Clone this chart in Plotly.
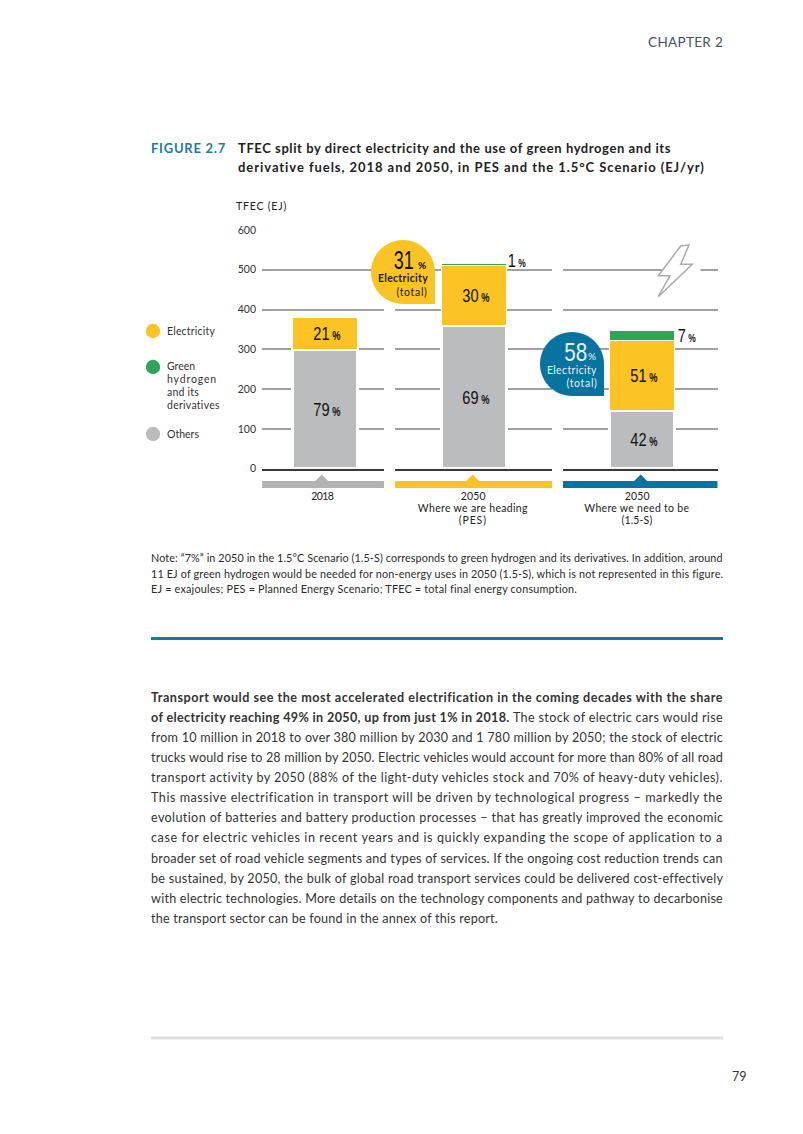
import plotly.graph_objects as go

W, H = 803, 1134

# ---- data ----
panels = ["2018", "2050 PES", "2050 1.5-S"]
others = [298, 358, 146]
electricity = [80, 151, 176]
hydrogen = [0, 5, 25]
others_pct = ["79", "69", "42"]
electricity_pct = ["21", "30", "51"]
hydrogen_pct = [None, "1", "7"]
y_ticks = [0, 100, 200, 300, 400, 500, 600]
panel_labels = [["2018"], ["2050", "Where we are heading", "(PES)"], ["2050", "Where we need to be", "(1.5-S)"]]
legend_labels = ["Electricity", "Green", "hydrogen", "and its", "derivatives", "Others"]
body_lines = [
    "<b>Transport would see the most accelerated electrification in the coming decades with the share</b>",
    "<b>of electricity reaching 49% in 2050, up from just 1% in 2018.</b> The stock of electric cars would rise",
    "from 10 million in 2018 to over 380 million by 2030 and 1 780 million by 2050; the stock of electric",
    "trucks would rise to 28 million by 2050. Electric vehicles would account for more than 80% of all road",
    "transport activity by 2050 (88% of the light-duty vehicles stock and 70% of heavy-duty vehicles).",
    "This massive electrification in transport will be driven by technological progress – markedly the",
    "evolution of batteries and battery production processes – that has greatly improved the economic",
    "case for electric vehicles in recent years and is quickly expanding the scope of application to a",
    "broader set of road vehicle segments and types of services. If the ongoing cost reduction trends can",
    "be sustained, by 2050, the bulk of global road transport services could be delivered cost-effectively",
    "with electric technologies. More details on the technology components and pathway to decarbonise",
    "the transport sector can be found in the annex of this report.",
]
note_lines = [
    "Note: “7%” in 2050 in the 1.5°C Scenario (1.5-S) corresponds to green hydrogen and its derivatives. In addition, around",
    "11 EJ of green hydrogen would be needed for non-energy uses in 2050 (1.5-S), which is not represented in this figure.",
    "EJ = exajoules; PES = Planned Energy Scenario; TFEC = total final energy consumption.",
]

# ---- style ----
YEL, GRN, GRY, BLU = "#FCC324", "#2FA55A", "#BBBCBE", "#07749F"
TXT = "#2b2b2b"
SANS = "Lato, sans-serif"
NARROW = "'Liberation Sans', sans-serif"


def px(x):
    return x / W


def py(y):
    return 1 - y / H


def pct(n, small=12):
    return f"{n}<span style='font-size:{small}px;font-weight:bold'> %</span>"


fig = go.Figure()
panel_x = [(262, 384, 325), (395, 552, 474), (563, 717.5, 642)]
axis_names = ["x", "x2", "x3"]
layout_axes = {}
for i, (l, r, c) in enumerate(panel_x):
    key = "xaxis" if i == 0 else f"xaxis{i + 1}"
    layout_axes[key] = dict(
        domain=[px(l), px(r)], type="category", range=[l - c, r - c], anchor="y",
        showgrid=False, showticklabels=False, ticks="", showline=True,
        linecolor="#3a3a3c", linewidth=2, layer="above traces", zeroline=False,
    )
    s = dict(x=[panels[i]], xaxis=axis_names[i], yaxis="y", width=65, showlegend=False)
    t = dict(textposition="inside", insidetextanchor="middle", textangle=0, constraintext="none",
             textfont=dict(family=NARROW, size=19, color="#111"))
    fig.add_trace(go.Bar(name="Others", y=[others[i]], marker=dict(color=GRY, line=dict(color="white", width=3)),
                         text=[pct(others_pct[i])], **s, **t))
    fig.add_trace(go.Bar(name="Electricity", y=[electricity[i]], marker=dict(color=YEL, line=dict(color="white", width=1)),
                         text=[pct(electricity_pct[i])], **s, **t))
    if hydrogen[i]:
        fig.add_trace(go.Bar(name="Green hydrogen and its derivatives", y=[hydrogen[i]],
                             marker=dict(color=GRN, line=dict(color="white", width=1)), **s))


def rect(x0, y0, x1, y1, color):
    return dict(type="rect", xref="paper", yref="paper", x0=px(x0), x1=px(x1), y0=py(y0), y1=py(y1),
                fillcolor=color, line_width=0, layer="above")


def path(pts, fill, line=None, lw=0):
    d = "M " + " L ".join(f"{px(a):.5f},{py(b):.5f}" for a, b in pts) + " Z"
    return dict(type="path", xref="paper", yref="paper", path=d, fillcolor=fill,
                line=dict(color=line or fill, width=lw), layer="above")


def circle(cx, cy, r, color):
    return dict(type="circle", xref="paper", yref="paper", x0=px(cx - r), x1=px(cx + r), y0=py(cy - r), y1=py(cy + r),
                fillcolor=color, line_width=0, layer="above")


def drop(cx, cy, r, color):
    k = 0.5523 * r
    f = lambda a, b: f"{px(a):.5f},{py(b):.5f}"
    d = (f"M {f(cx + r, cy + r)} L {f(cx, cy + r)} "
         f"C {f(cx - k, cy + r)} {f(cx - r, cy + k)} {f(cx - r, cy)} "
         f"C {f(cx - r, cy - k)} {f(cx - k, cy - r)} {f(cx, cy - r)} "
         f"C {f(cx + k, cy - r)} {f(cx + r, cy - k)} {f(cx + r, cy)} Z")
    return dict(type="path", xref="paper", yref="paper", path=d, fillcolor=color, line_width=0, layer="above")


shapes = [
    rect(151, 637, 723, 640, "#0E7BA6"),
    rect(151, 1036.5, 723, 1039.5, "#E1E1E1"),
    drop(403, 272, 32, YEL),
    drop(572, 364, 32, BLU),
    rect(662, 267, 700.5, 273, "white"),
    path([(680.7, 246), (689, 245), (680.7, 264.3), (692.3, 264.3), (658.3, 296.7), (670, 275.7), (658.3, 275.7)],
         "white", "#ABABAB", 1.5),
]
for (l, r, tri, col) in [(262, 384, 321.7, "#B3B3B3"), (395, 552, 472.7, YEL), (563, 717.5, 640.7, BLU)]:
    shapes.append(rect(l, 481, r, 488, col))
    shapes.append(path([(tri - 7, 481.5), (tri, 474.5), (tri + 7, 481.5)], col))
for cy, col in [(331, YEL), (367, GRN), (434, GRY)]:
    shapes.append(circle(153, cy, 7.2, col))

ann = []
fit = {}      # annotation index -> text width in px, reached through letter spacing
squeeze = {}  # annotation index -> horizontal scale


def text(x, y, s, size=10, color=TXT, font=SANS, anchor="left", width=None, scale=None):
    ann.append(dict(xref="paper", yref="paper", x=px(x), y=py(y), text=s, showarrow=False, xanchor=anchor,
                    yanchor="middle", align=anchor, borderpad=0, borderwidth=0,
                    font=dict(size=size, color=color, family=font)))
    i = len(ann) - 1
    if width:
        fit[i] = width
    if scale:
        squeeze[i] = scale
    return i


text(723, 42, "CHAPTER 2", 13.5, "#44506A", anchor="right", width=75)
text(747, 1076, "79", 12.5, "#333", anchor="right")
text(151, 148, "<b>FIGURE 2.7</b>", 13, "#1B7AA3", width=75)
text(238, 148, "<b>TFEC split by direct electricity and the use of green hydrogen and its</b>", 13, "#222", width=433)
text(238, 167, "<b>derivative fuels, 2018 and 2050, in PES and the 1.5°C Scenario (EJ/yr)</b>", 13, "#222", width=467)
text(236, 206, "TFEC (EJ)", 10.5, "#222", width=51)

for y, s, w in zip([331, 366, 379, 392, 405, 434], legend_labels, [48, 28, 50, 32, 53, 32]):
    text(166.5, y, s, 10.5, "#333", width=w)

for cx, lines, widths in zip([322, 472.5, 637], panel_labels,
                             [[22], [25, 110, 28], [25, 105, 31]]):
    for y, s, w in zip([496, 508, 519.5], lines, widths):
        text(cx, y, s, 10.5, "#222", anchor="center", width=w)

text(403, 260, "31", 26.5, "#111", NARROW, anchor="center", scale=0.68)
text(418, 265, "<b>%</b>", 10, "#111")
text(428, 278, "<b>Electricity</b>", 10.5, "#222", anchor="right", width=50)
text(428, 291.5, "(total)", 10.5, "#222", anchor="right", width=31)
text(575.5, 352, "58", 26.5, "#E6F0F5", NARROW, anchor="center", scale=0.78)
text(588, 356.5, "%", 10, "#E6F0F5")
text(597, 370, "Electricity", 10.5, "#E6F0F5", anchor="right", width=50)
text(598, 383, "(total)", 10.5, "#E6F0F5", anchor="right", width=31)
text(517, 260.5, pct(hydrogen_pct[1], 11), 19, "#111", NARROW, anchor="center", scale=0.77)
text(687, 335.5, pct(hydrogen_pct[2], 11), 19, "#111", NARROW, anchor="center", scale=0.77)

for y, s, w in zip([557, 573, 588.5], note_lines, [572, 572, 426]):
    text(151, y, s, 10.8, "#2a2a2a", width=w)
for n, s in enumerate(body_lines):
    text(151, 697.2 + n * 20.1, s, 12.6, "#333", width=572 if n < 11 else 347)

fig.update_layout(
    width=W, height=H, autosize=False, margin=dict(l=0, r=0, t=0, b=0, autoexpand=False),
    paper_bgcolor="white", plot_bgcolor="white", barmode="stack", bargap=0,
    showlegend=False, shapes=shapes, annotations=ann,
    yaxis=dict(domain=[py(468.7), py(230)], range=[0, 600], tickmode="array", tickvals=y_ticks,
               showgrid=True, gridcolor="#A0A0A0", gridwidth=2, zeroline=False, anchor="x",
               ticks="", ticklabelstandoff=5, tickfont=dict(size=10.5, color="#333", family=SANS), showline=False),
    **layout_axes,
)


def js_map(d):
    return "{" + ",".join(f'"{k}":{v}' for k, v in d.items()) + "}"


js = """
document.body.style.margin = '0';
var gd = document.getElementById('{plot_id}');
var fit = %s, squeeze = %s;
function ann(k) { return gd.querySelector('.annotation[data-index="' + k + '"] .annotation-text'); }
function narrow(t, s, dx) {
  var b = t.getBBox(), cx = b.x + b.width / 2, old = t.getAttribute('transform') || '';
  t.setAttribute('transform', old + ' translate(' + (cx + dx) + ',0) scale(' + s + ',1) translate(' + (-cx) + ',0)');
}
Object.keys(fit).forEach(function (k) {
  var t = ann(k);
  if (t) t.style.letterSpacing = ((fit[k] - t.getComputedTextLength()) / t.textContent.length) + 'px';
});
Object.keys(squeeze).forEach(function (k) { var t = ann(k); if (t) narrow(t, squeeze[k], 0); });
gd.querySelectorAll('text.bartext').forEach(function (t) { narrow(t, 0.77, 2); });
""" % (js_map(fit), js_map(squeeze))
fig.write_html("out.html", post_script=js, config={"displayModeBar": False})
